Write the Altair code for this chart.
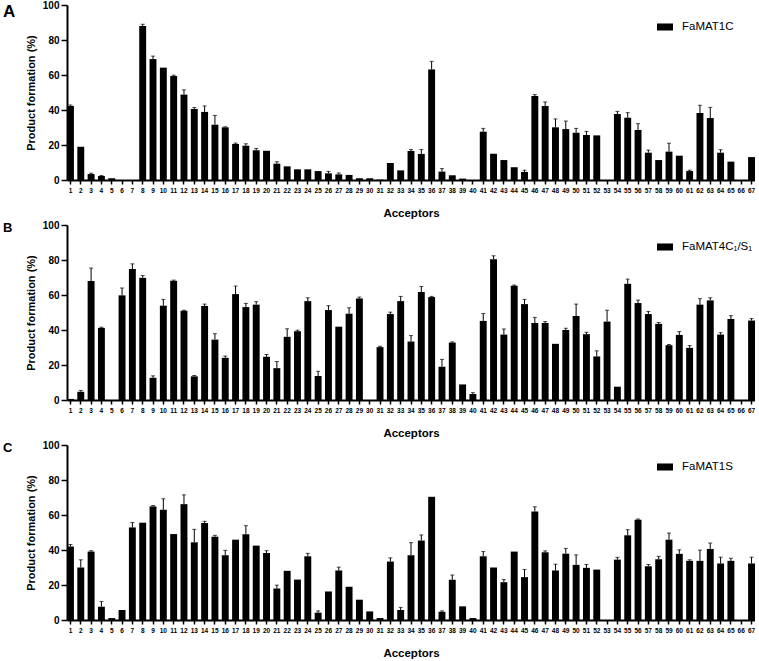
import altair as alt
import pandas as pd

# Acceptor numbers on the x axis
acceptors = ["1", "2", "3", "4", "5", "6", "7", "8", "9", "10",
             "11", "12", "13", "14", "15", "16", "17", "18", "19", "20",
             "21", "22", "23", "24", "25", "26", "27", "28", "29", "30",
             "31", "32", "33", "34", "35", "36", "37", "38", "39", "40",
             "41", "42", "43", "44", "45", "46", "47", "48", "49", "50",
             "51", "52", "53", "54", "55", "56", "57", "58", "59", "60",
             "61", "62", "63", "64", "65", "66", "67"]

# FaMAT1C product formation (%) and error (SD)
mat1c_mean = [42.3, 19.0, 3.4, 2.3, 1.0, 0.0, 0.0, 88.0, 69.1, 64.2,
              59.4, 48.8, 40.6, 38.9, 31.6, 30.1, 20.6, 19.6, 17.0, 16.7,
              9.3, 7.8, 6.1, 6.1, 5.1, 3.8, 3.2, 2.9, 1.0, 1.0,
              0.2, 9.7, 5.5, 16.6, 14.9, 63.2, 4.8, 2.7, 0.8, 0.0,
              27.6, 15.0, 11.4, 7.3, 4.6, 48.0, 42.3, 30.1, 29.1, 27.0,
              25.7, 25.5, 0.0, 37.7, 35.6, 28.6, 15.6, 11.4, 16.2, 13.9,
              5.1, 38.3, 35.4, 15.6, 10.5, 0.0, 13.1]
mat1c_err = [0.5, 0.0, 0.5, 0.3, 0.0, 0.0, 0.0, 1.0, 1.7, 0.0,
             0.5, 2.7, 0.8, 3.4, 5.3, 0.3, 0.5, 1.1, 1.0, 0.0,
             1.1, 0.0, 0.0, 0.0, 0.0, 1.1, 0.8, 0.0, 0.0, 0.0,
             0.0, 0.0, 0.0, 0.8, 2.5, 4.6, 1.7, 0.0, 0.0, 0.0,
             1.9, 0.0, 0.0, 0.0, 1.0, 0.8, 2.3, 4.8, 4.6, 2.5,
             2.1, 0.0, 0.0, 1.5, 2.9, 3.6, 1.5, 0.0, 4.8, 0.0,
             0.5, 4.4, 6.1, 1.7, 0.0, 0.0, 0.0]

# FaMAT4C1/S1 product formation (%) and error (SD)
mat4_mean = [0.6, 4.7, 68.0, 41.2, 0.0, 59.8, 74.8, 69.8, 12.7, 53.9,
             68.1, 51.0, 13.5, 53.7, 34.5, 24.1, 60.5, 53.1, 54.5, 24.7,
             18.2, 36.1, 39.3, 56.5, 13.7, 51.4, 41.9, 49.3, 58.0, 0.0,
             30.2, 49.1, 56.5, 33.4, 61.7, 58.8, 19.0, 32.8, 8.9, 3.4,
             45.2, 80.5, 37.4, 65.3, 54.8, 44.0, 44.0, 32.1, 40.0, 48.0,
             37.6, 24.9, 44.8, 7.6, 66.4, 55.4, 49.1, 43.5, 31.3, 37.2,
             29.8, 54.5, 56.9, 37.4, 46.3, 0.0, 45.4]
mat4_err = [0.0, 0.8, 7.4, 0.4, 0.0, 4.2, 3.0, 1.3, 1.1, 3.6,
            0.4, 0.3, 0.5, 1.1, 3.4, 1.0, 4.6, 2.1, 1.7, 1.3,
            3.8, 4.6, 0.6, 1.9, 2.7, 2.5, 0.0, 3.4, 0.8, 0.0,
            0.5, 1.1, 2.7, 3.4, 3.2, 0.4, 4.2, 0.4, 0.0, 0.8,
            4.2, 1.9, 3.2, 0.4, 2.7, 3.2, 0.8, 0.0, 1.0, 6.8,
            1.1, 3.2, 6.5, 0.0, 2.7, 1.7, 1.5, 0.8, 0.4, 1.9,
            1.3, 3.4, 1.5, 1.1, 1.9, 0.0, 1.1]

# FaMAT1S product formation (%) and error (SD)
mat1s_mean = [42.0, 30.0, 39.1, 7.6, 1.1, 5.7, 52.9, 55.6, 64.9, 63.0,
              49.1, 66.2, 44.4, 55.4, 47.6, 37.0, 45.9, 49.0, 42.5, 38.3,
              18.0, 28.1, 23.1, 36.4, 4.2, 16.3, 28.3, 19.0, 11.6, 4.9,
              1.1, 33.4, 5.7, 37.0, 45.4, 70.4, 4.7, 23.0, 7.8, 1.1,
              36.4, 30.0, 21.6, 39.1, 24.5, 62.0, 38.7, 28.3, 37.9, 31.5,
              29.8, 28.8, 0.0, 34.5, 48.4, 57.3, 30.7, 34.7, 45.9, 37.8,
              33.8, 33.8, 40.6, 32.3, 33.8, 0.0, 32.3]
mat1s_err = [1.1, 4.4, 0.5, 3.0, 0.0, 0.0, 2.8, 0.0, 0.5, 6.3,
             0.0, 5.3, 7.4, 1.0, 0.8, 2.8, 0.0, 4.9, 0.0, 1.3,
             1.9, 0.0, 0.0, 1.7, 1.0, 0.0, 1.9, 0.0, 0.0, 0.0,
             0.0, 2.1, 1.5, 7.2, 3.2, 0.0, 0.5, 2.7, 0.0, 0.0,
             2.7, 0.0, 1.5, 0.0, 4.4, 2.7, 0.8, 3.6, 3.0, 5.7,
             1.9, 0.0, 0.0, 1.3, 3.2, 0.4, 1.0, 1.7, 3.8, 2.3,
             0.6, 6.1, 3.4, 3.6, 1.5, 0.0, 3.6]

y_ticks = [0, 20, 40, 60, 80, 100]

FONT = "Liberation Sans"

X_AXIS = alt.Axis(
    title="Acceptors", labelAngle=0, labelFont=FONT, labelFontSize=6.5,
    labelFontWeight="bold", labelColor="black", labelPadding=3,
    labelOverlap=False, tickSize=4, tickColor="black", tickWidth=1.5,
    domainColor="black", domainWidth=2,
    titleFont=FONT, titleFontSize=11.5, titleFontWeight="bold",
    titleColor="black", titlePadding=14,
)
Y_AXIS = alt.Axis(
    title="Product formation (%)", values=y_ticks, grid=False,
    labelOverlap=False, labelFlush=False,
    labelFont=FONT, labelFontSize=10, labelFontWeight="bold",
    labelColor="black", labelPadding=2, tickSize=6, tickColor="black",
    tickWidth=1.5, domainColor="black", domainWidth=2,
    titleFont=FONT, titleFontSize=11, titleFontWeight="bold",
    titleColor="black", titlePadding=6,
)
X_SCALE = alt.Scale(paddingInner=0.33, paddingOuter=0)
Y_SCALE = alt.Scale(domain=[0, 100], nice=False)


def xenc():
    return alt.X("acceptor:N", sort=acceptors, scale=X_SCALE, axis=X_AXIS)


def yenc(field):
    return alt.Y(field, scale=Y_SCALE, axis=Y_AXIS)


def panel(letter, letter_size, letter_y, enzyme, means, errs):
    df = pd.DataFrame({"acceptor": acceptors, "mean": means, "err": errs})
    df["enzyme"] = enzyme
    df["upper"] = df["mean"] + df["err"]
    df_err = df[df["err"] > 0]

    bars = alt.Chart(df).mark_bar(color="black").encode(
        x=xenc(),
        y=yenc("mean:Q"),
        color=alt.Color(
            "enzyme:N",
            scale=alt.Scale(range=["black"]),
            legend=alt.Legend(
                title=None, orient="none", legendX=590, legendY=14,
                padding=0, symbolType="M-1,-0.44H1V0.44H-1Z", symbolSize=256,
                symbolStrokeWidth=0, symbolFillColor="black", symbolOpacity=1,
                labelFont=FONT, labelFontSize=11.5, labelColor="black",
                labelOffset=9,
            ),
        ),
    )
    stems = alt.Chart(df_err).mark_rule(color="black", strokeWidth=1).encode(
        x=xenc(), y=yenc("mean:Q"), y2="upper:Q"
    )
    caps = alt.Chart(df_err).mark_tick(
        color="black", thickness=1, size=4, orient="horizontal"
    ).encode(x=xenc(), y=yenc("upper:Q"))
    tag = alt.Chart(pd.DataFrame({"t": [letter]})).mark_text(
        font=FONT, fontSize=letter_size, fontWeight="bold", color="black",
        align="left", baseline="top",
    ).encode(text="t:N", x=alt.value(-64), y=alt.value(letter_y))

    return alt.layer(bars, stems, caps, tag).properties(width=688, height=175)


chart = alt.vconcat(
    panel("A", 17, -1, "FaMAT1C", mat1c_mean, mat1c_err),
    panel("B", 13, -3, "FaMAT4C\u2081/S\u2081", mat4_mean, mat4_err),
    panel("C", 13, -3, "FaMAT1S", mat1s_mean, mat1s_err),
    spacing=1,
).resolve_scale(color="independent").resolve_legend(
    color="independent"
).configure_view(stroke=None).properties(
    padding={"left": 3, "top": 0, "right": 0, "bottom": 0},
    background="white",
)

chart.save("out.html", embed_options={"renderer": "svg", "actions": False})
